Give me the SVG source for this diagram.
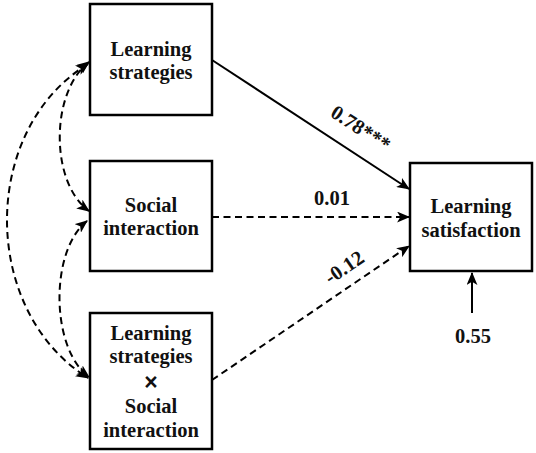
<svg xmlns="http://www.w3.org/2000/svg" width="536" height="453" viewBox="0 0 536 453">
<defs>
<style>
.box{fill:#fff;stroke:#000;stroke-width:2.5}
.t{font-weight:bold;font-size:20.5px;fill:#111;text-anchor:middle}
.ln{fill:none;stroke:#000;stroke-width:2}
.d{stroke-dasharray:7,4.5}
</style>
<marker id="ah" viewBox="0 0 12 10" refX="11" refY="5" markerWidth="13" markerHeight="11" markerUnits="userSpaceOnUse" orient="auto-start-reverse">
<path d="M0,0 L12,5 L0,10 L3,5 Z" fill="#000"/>
</marker>
</defs>
<rect width="536" height="453" fill="#fff"/>
<g font-family="'Liberation Serif', 'Times New Roman', serif">
<g id="connectors">
<path class="ln" d="M212,60 L409,189" marker-end="url(#ah)"/>
<path class="ln d" d="M212,217 L409,217" marker-end="url(#ah)"/>
<path class="ln d" d="M212,380 L409,246" marker-end="url(#ah)"/>
<path class="ln" d="M472,313 L472,273" marker-end="url(#ah)"/>
<path class="ln d" d="M89,62 C50,92 50,183 89,211" marker-start="url(#ah)" marker-end="url(#ah)"/>
<path class="ln d" d="M87,221 C50,250 50,348 89,377" marker-start="url(#ah)" marker-end="url(#ah)"/>
<path class="ln d" d="M88,64 C-20,130 -20,310 88,378" marker-start="url(#ah)" marker-end="url(#ah)"/>
<text class="t" transform="translate(357,134) rotate(33.2)">0.78***</text>
<text class="t" x="332" y="205">0.01</text>
<text class="t" transform="translate(348,273) rotate(-34.2)">-0.12</text>
<text class="t" x="473" y="343">0.55</text>
</g>
<g id="n1">
<rect class="box" x="90" y="4" width="122" height="111"/>
<text class="t" x="151" y="56">Learning</text>
<text class="t" x="151" y="79">strategies</text>
</g>
<g id="n2">
<rect class="box" x="90" y="161" width="122" height="110"/>
<text class="t" x="151" y="212">Social</text>
<text class="t" x="151" y="235">interaction</text>
</g>
<g id="n3">
<rect class="box" x="90" y="313" width="122" height="136"/>
<text class="t" x="151" y="340">Learning</text>
<text class="t" x="151" y="363">strategies</text>
<text class="t" x="151" y="390" font-family="'Liberation Sans', Arial, sans-serif" style="font-size:23px">×</text>
<text class="t" x="151" y="413">Social</text>
<text class="t" x="151" y="437">interaction</text>
</g>
<g id="n4">
<rect class="box" x="410" y="163" width="122" height="108"/>
<text class="t" x="471" y="213">Learning</text>
<text class="t" x="471" y="237">satisfaction</text>
</g>
</g>
</svg>
